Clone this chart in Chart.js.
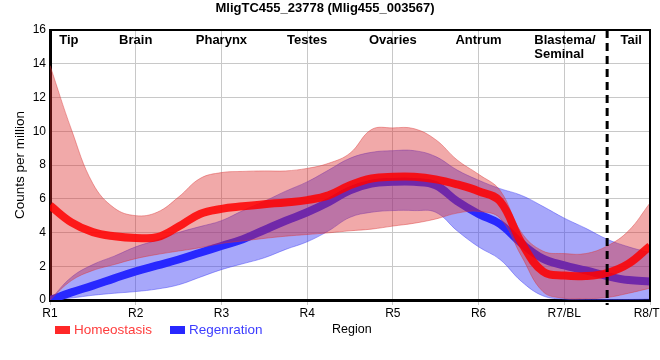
<!DOCTYPE html>
<html><head><meta charset="utf-8">
<script src="https://cdn.jsdelivr.net/npm/chart.js@4.4.0/dist/chart.umd.min.js"></script>
<style>html,body{margin:0;padding:0;background:#fff;}#wrap{width:660px;height:360px;}</style>
</head><body><div id="wrap"><canvas id="c" width="660" height="360"></canvas></div>
<script>
// ---- data ----
const regionTicks = ['R1','R2','R3','R4','R5','R6','R7/BL','R8/TL'];
const xs = [1,1.25,1.5,1.75,2,2.25,2.5,2.75,3,3.25,3.5,3.75,4,4.25,4.5,4.75,5,5.25,5.5,5.75,6,6.25,6.5,6.75,7,7.25,7.5,7.75,8];
const homeostasis      = [5.6,4.6,4.02,3.78,3.68,3.72,4.35,5.1,5.4,5.55,5.68,5.78,5.92,6.2,6.8,7.2,7.3,7.3,7.15,6.85,6.45,5.85,3.4,1.7,1.45,1.42,1.6,2.15,3.2];
const homeostasisUpper = [13.9,10.1,6.9,5.45,5.0,5.2,6.1,7.2,7.55,7.62,7.65,7.65,7.8,8.1,8.7,10.1,10.2,10.15,9.5,8.3,7.45,6.5,4.0,2.9,2.75,2.75,3.2,4.1,5.75];
const homeostasisLower = [0,1.15,1.75,2.1,2.45,2.7,2.9,3.1,3.35,3.5,3.65,3.78,3.88,3.98,4.1,4.2,4.38,4.55,4.8,5.15,5.25,4.85,2.6,0.5,0.1,0.08,0.15,0.4,0.7];
const regeneration      = [0,0.45,0.85,1.28,1.7,2.05,2.4,2.8,3.2,3.6,4.15,4.7,5.2,5.8,6.5,6.9,7.0,7.0,6.8,5.85,5.1,4.5,3.35,2.45,2.05,1.75,1.42,1.18,1.1];
const regenerationUpper = [0,1.35,2.1,2.6,3.15,3.55,4.0,4.35,4.7,5.3,5.85,6.45,7.0,7.7,8.4,8.75,8.85,8.85,8.5,7.7,7.1,6.6,6.2,5.55,4.85,4.25,3.6,3.15,2.8];
const regenerationLower = [0,0.12,0.28,0.4,0.5,0.65,0.9,1.35,1.8,2.15,2.5,3.0,3.45,4.1,4.9,5.2,5.3,5.3,5.2,4.1,3.15,2.4,1.1,0.25,0.05,0.03,0.03,0.03,0.05];
const tissueLabels = ['Tip','Brain','Pharynx','Testes','Ovaries','Antrum','Blastema/\nSeminal','Tail'];
const tissuePositions = [1.22,2,3,4,5,6,6.65,7.78];
const tailBoundary = 7.5;
const seriesNames = ['Homeostasis','Regenration'];
const chartTitle = 'MligTC455_23778 (Mlig455_003567)';

const pts = arr => xs.map((x,i)=>({x:x,y:arr[i]}));
const FONT = "'Liberation Sans', Arial, sans-serif";
const TENSION = 0.4;

const decor = {
  id:'decor',
  afterDatasetsDraw(chart){
    const {ctx, chartArea:a, scales:{x}} = chart;
    ctx.save();
    ctx.strokeStyle='#000'; ctx.lineWidth=2;
    ctx.beginPath(); ctx.moveTo(a.left, a.top); ctx.lineTo(a.right, a.top); ctx.lineTo(a.right, a.bottom); ctx.stroke();
    const dx = x.getPixelForValue(tailBoundary);
    ctx.setLineDash([8,5]); ctx.lineWidth=3;
    ctx.beginPath(); ctx.moveTo(dx, a.top); ctx.lineTo(dx, a.bottom+5); ctx.stroke();
    ctx.setLineDash([]);
    ctx.fillStyle='#000'; ctx.font='bold 13px '+FONT; ctx.textBaseline='middle';
    tissueLabels.forEach((t,i)=>{
      const px = x.getPixelForValue(tissuePositions[i]);
      const lines = t.split('\n');
      ctx.textAlign = lines.length>1 ? 'left' : 'center';
      lines.forEach((ln,j)=>ctx.fillText(ln, px, a.top+10+j*14));
    });
    const ly = 330;
    ctx.textAlign='left';
    ctx.font='13.5px '+FONT;
    ctx.fillStyle='rgb(255,40,40)'; ctx.fillRect(55, ly-4, 15, 8);
    ctx.fillStyle='rgb(255,60,60)'; ctx.fillText(seriesNames[0], 74, ly);
    ctx.fillStyle='rgb(40,40,255)'; ctx.fillRect(170, ly-4, 15, 8);
    ctx.fillStyle='rgb(60,60,255)'; ctx.fillText(seriesNames[1], 189, ly);
    ctx.fillStyle='#000'; ctx.font='12.5px '+FONT; ctx.fillText('Region', 332, ly);
    ctx.restore();
  }
};

new Chart(document.getElementById('c'), {
  type:'line',
  data:{datasets:[
    {data:pts(homeostasis), borderColor:'rgba(255,0,0,0.85)', borderWidth:8, pointRadius:0, fill:false, order:1, tension:TENSION},
    {data:pts(homeostasisUpper), borderColor:'rgba(220,60,60,0.45)', borderWidth:1, backgroundColor:'rgba(220,40,40,0.4)', pointRadius:0, fill:2, order:2, tension:TENSION},
    {data:pts(homeostasisLower), borderColor:'rgba(220,60,60,0.45)', borderWidth:1, pointRadius:0, fill:false, order:3, tension:TENSION},
    {data:pts(regeneration), borderColor:'rgb(40,40,255)', borderWidth:8, pointRadius:0, fill:false, order:4, tension:TENSION},
    {data:pts(regenerationUpper), borderColor:'rgba(60,60,245,0.45)', borderWidth:1, backgroundColor:'rgba(60,60,245,0.45)', pointRadius:0, fill:5, order:5, tension:TENSION},
    {data:pts(regenerationLower), borderColor:'rgba(60,60,245,0.45)', borderWidth:1, pointRadius:0, fill:false, order:6, tension:TENSION}
  ]},
  options:{
    responsive:false, animation:false, devicePixelRatio:1,
    layout:{padding:{left:0,right:10,top:0,bottom:0}},
    plugins:{
      legend:{display:false}, tooltip:{enabled:false},
      title:{display:true, text:chartTitle, color:'#000', font:{family:FONT, size:13, weight:'bold'}, padding:{top:1,bottom:13.4}}
    },
    scales:{
      x:{type:'linear', min:1, max:8,
        afterFit:s=>{s.height=60; s.paddingLeft=0; s.paddingRight=0;},
        ticks:{stepSize:1, autoSkip:false, maxRotation:0, color:'#000', padding:1, font:{family:FONT,size:12},
          callback:v=>Number.isInteger(v)?regionTicks[v-1]:''},
        grid:{color:'#c8c8c8', lineWidth:1, tickLength:5},
        border:{color:'#000', width:3}
      },
      y:{min:0, max:16,
        afterFit:s=>{s.width=50;},
        ticks:{stepSize:2, color:'#000', padding:4, font:{family:FONT,size:12}},
        grid:{color:'#c8c8c8', lineWidth:1, drawTicks:false},
        border:{color:'#000', width:3},
        title:{display:true, text:'Counts per million', color:'#000', font:{family:FONT,size:13.5}, padding:{top:12,bottom:0}}
      }
    }
  },
  plugins:[decor]
});
</script></body></html>
